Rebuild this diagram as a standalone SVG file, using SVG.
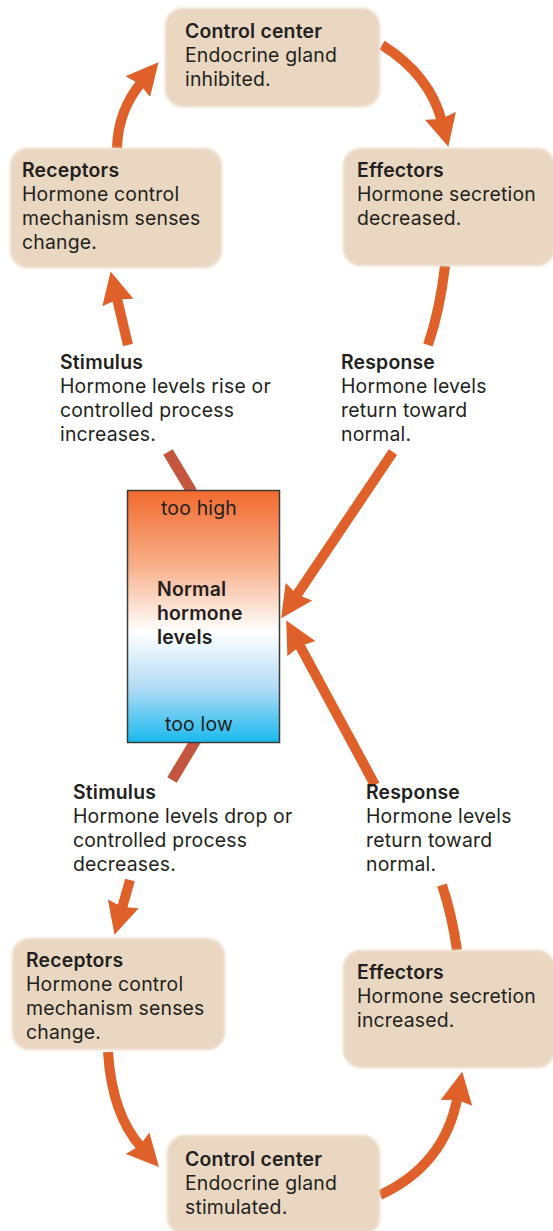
<svg xmlns="http://www.w3.org/2000/svg" width="553" height="1231" viewBox="0 0 553 1231">
<defs>
<style>
text{font-family:Inter,"Open Sans","Liberation Sans",sans-serif;font-size:19.4px;letter-spacing:0.2px;fill:#231f20}
.b{font-weight:600}
.box{fill:#e9d7c1}
.arr{fill:none;stroke:#e0602a;stroke-width:10}
.seg{fill:none;stroke:#c4553e;stroke-width:11}
</style>
<filter id="soft" x="-10%" y="-10%" width="120%" height="120%"><feGaussianBlur stdDeviation="1.6"/></filter>
<marker id="ah" markerUnits="userSpaceOnUse" markerWidth="32" markerHeight="32" viewBox="0 0 30 30" refX="6" refY="15" orient="auto"><path d="M0,0 L30,15 L0,30 L3,15 z" fill="#e0602a"/></marker>
<linearGradient id="lvl" x1="0" y1="0" x2="0" y2="1">
<stop offset="0" stop-color="#f26a2e"/>
<stop offset="0.3" stop-color="#f8b08a"/>
<stop offset="0.56" stop-color="#ffffff"/>
<stop offset="0.78" stop-color="#b4dcf6"/>
<stop offset="1" stop-color="#18b9ee"/>
</linearGradient>
</defs>
<rect width="553" height="1231" fill="#ffffff"/>
<g id="connectors">
<path class="arr" d="M117 148 Q118 110 142 81.7" marker-end="url(#ah)"/>
<path class="arr" d="M382 45 Q430 75 442 122" marker-end="url(#ah)"/>
<path class="arr" d="M445 266 Q440 310 428 345"/>
<path class="arr" d="M393 452 L295.4 597.1" marker-end="url(#ah)"/>
<path class="arr" d="M375 785 L298.4 643.1" marker-end="url(#ah)"/>
<path class="arr" d="M442 885 Q452 915 457 950"/>
<path class="arr" d="M128 345 L116.5 296.3" marker-end="url(#ah)"/>
<path class="arr" d="M130 880 L121.5 910" marker-end="url(#ah)"/>
<path class="arr" d="M108 1052 Q112 1115 141.8 1148" marker-end="url(#ah)"/>
<path class="arr" d="M380 1195 Q445 1165 457.6 1096.6" marker-end="url(#ah)"/>
<path class="seg" d="M168 452 L192 492"/>
<path class="seg" d="M196 740 L172 780"/>
</g>
<g id="control-top">
<rect class="box" x="165" y="8" width="215" height="99" rx="18" filter="url(#soft)"/>
<text x="185" y="38" class="b">Control center</text>
<text x="185" y="62">Endocrine gland</text>
<text x="185" y="86">inhibited.</text>
</g>
<g id="receptors-top">
<rect class="box" x="10" y="148" width="212" height="120" rx="18" filter="url(#soft)"/>
<text x="22" y="177" class="b">Receptors</text>
<text x="22" y="201">Hormone control</text>
<text x="22" y="225">mechanism senses</text>
<text x="22" y="249">change.</text>
</g>
<g id="effectors-top">
<rect class="box" x="343" y="148" width="212" height="118" rx="18" filter="url(#soft)"/>
<text x="357" y="177" class="b">Effectors</text>
<text x="357" y="201">Hormone secretion</text>
<text x="357" y="225">decreased.</text>
</g>
<g id="stimulus-top">
<text x="60" y="369" class="b">Stimulus</text>
<text x="60" y="393">Hormone levels rise or</text>
<text x="60" y="417">controlled process</text>
<text x="60" y="441">increases.</text>
</g>
<g id="response-top">
<text x="341" y="369" class="b">Response</text>
<text x="341" y="393">Hormone levels</text>
<text x="341" y="417">return toward</text>
<text x="341" y="441">normal.</text>
</g>
<g id="levels">
<rect x="127.5" y="490.5" width="152" height="252" fill="url(#lvl)" stroke="#3a3a3a" stroke-width="1.5"/>
<text x="199" y="515" text-anchor="middle">too high</text>
<text x="157" y="596" class="b">Normal</text>
<text x="157" y="620" class="b">hormone</text>
<text x="157" y="644" class="b">levels</text>
<text x="199" y="731" text-anchor="middle">too low</text>
</g>
<g id="stimulus-bottom">
<text x="73" y="799" class="b">Stimulus</text>
<text x="73" y="823">Hormone levels drop or</text>
<text x="73" y="847">controlled process</text>
<text x="73" y="871">decreases.</text>
</g>
<g id="response-bottom">
<text x="366" y="799" class="b">Response</text>
<text x="366" y="823">Hormone levels</text>
<text x="366" y="847">return toward</text>
<text x="366" y="871">normal.</text>
</g>
<g id="receptors-bottom">
<rect class="box" x="12" y="938" width="213" height="112" rx="18" filter="url(#soft)"/>
<text x="26" y="967" class="b">Receptors</text>
<text x="26" y="991">Hormone control</text>
<text x="26" y="1015">mechanism senses</text>
<text x="26" y="1039">change.</text>
</g>
<g id="effectors-bottom">
<rect class="box" x="343" y="950" width="212" height="118" rx="18" filter="url(#soft)"/>
<text x="357" y="979" class="b">Effectors</text>
<text x="357" y="1003">Hormone secretion</text>
<text x="357" y="1027">increased.</text>
</g>
<g id="control-bottom">
<rect class="box" x="167" y="1135" width="213" height="100" rx="18" filter="url(#soft)"/>
<text x="185" y="1166" class="b">Control center</text>
<text x="185" y="1190">Endocrine gland</text>
<text x="185" y="1214">stimulated.</text>
</g>
</svg>
